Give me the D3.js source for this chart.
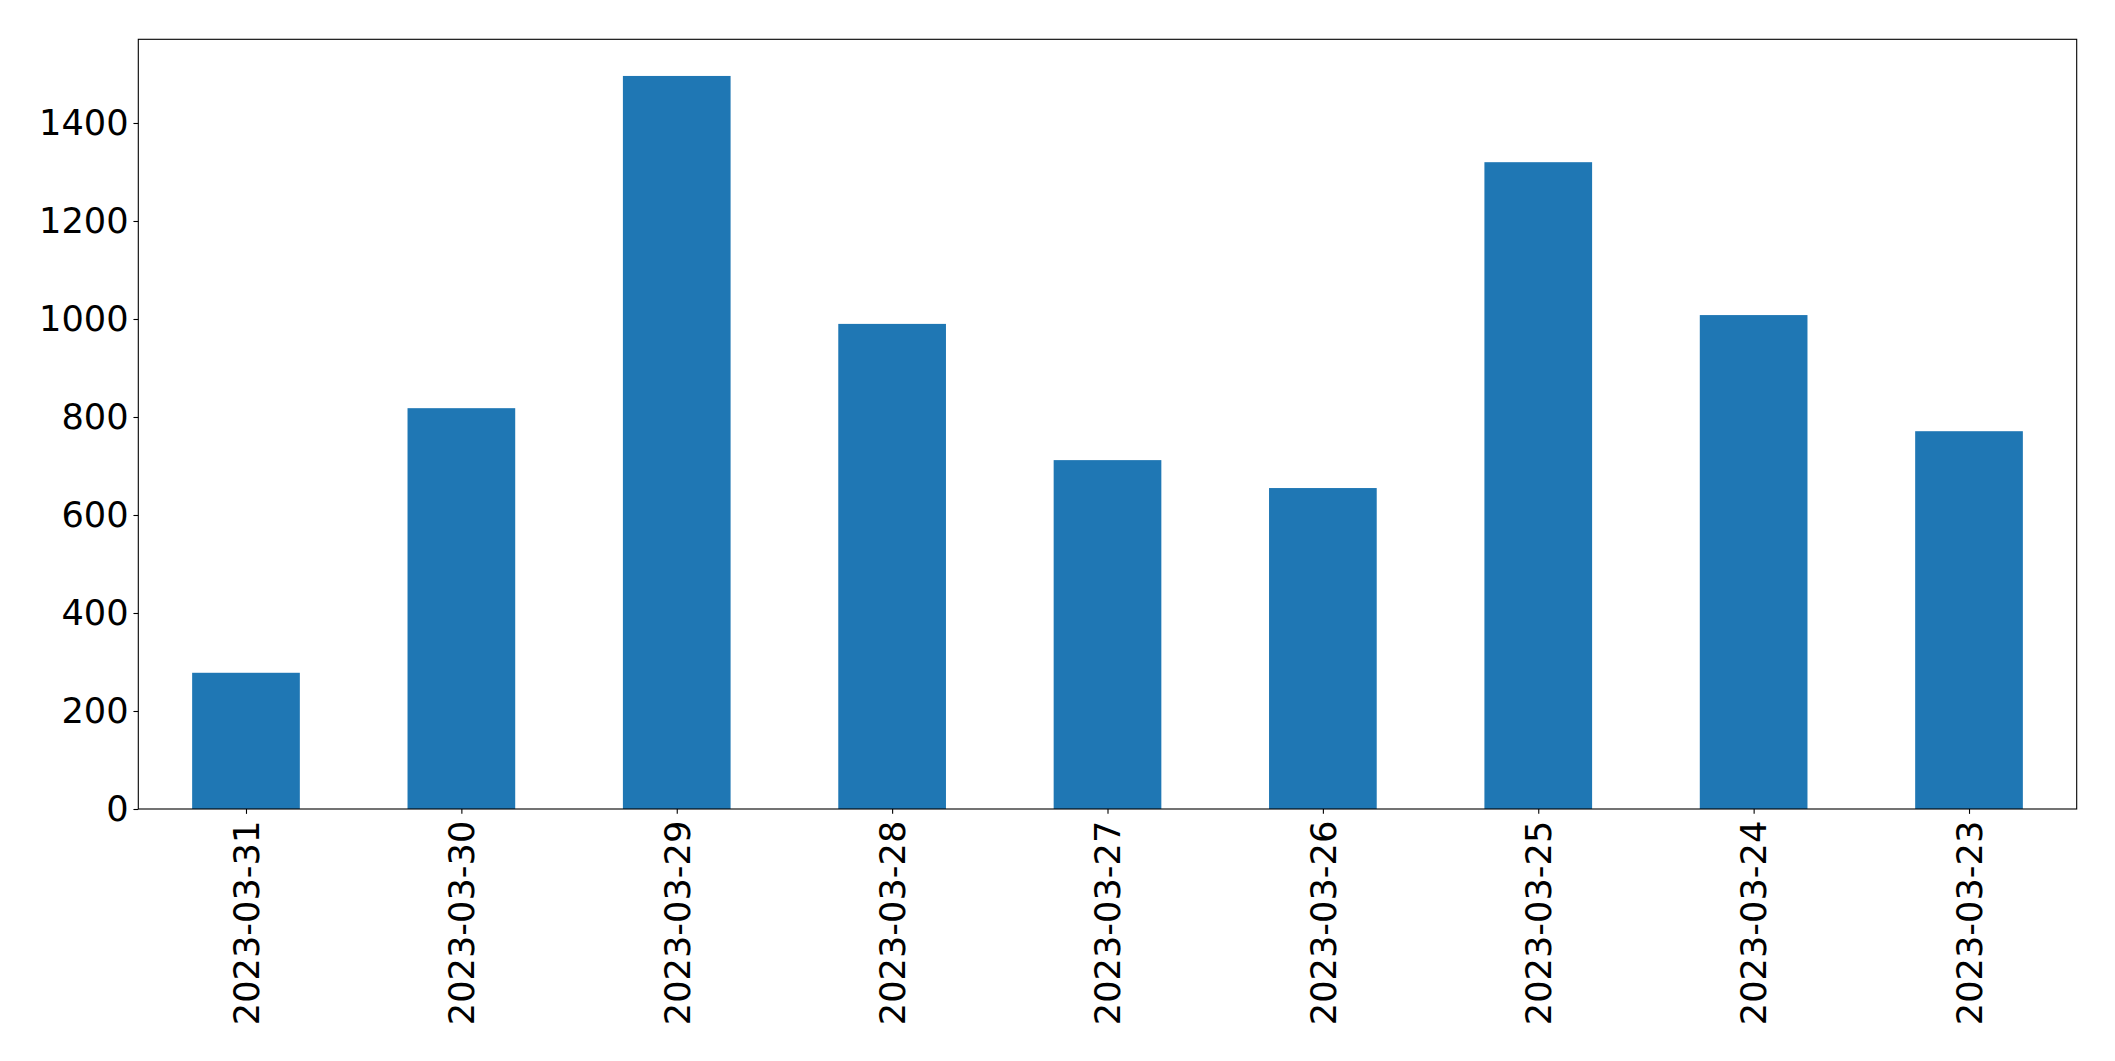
<!DOCTYPE html>
<html>
<head>
<meta charset="utf-8">
<script src="https://cdn.jsdelivr.net/npm/d3@7"></script>
<style>
html,body{margin:0;padding:0;background:#fff;}
svg{display:block;}
</style>
</head>
<body>
<script>
const categories = ["2023-03-31","2023-03-30","2023-03-29","2023-03-28","2023-03-27","2023-03-26","2023-03-25","2023-03-24","2023-03-23"];
const values = [278, 818, 1496, 990, 712, 655, 1320, 1008, 771];
const yTicks = [0, 200, 400, 600, 800, 1000, 1200, 1400];

const W = 2115, H = 1061;
const plotLeft = 138.3, plotRight = 2076.7, plotTop = 39.3, plotBottom = 809;
const fontSize = 35.2;
const tickLen = 4.86, tickPad = 4.86;

const svg = d3.select("body").append("svg").attr("width", W).attr("height", H);

const n = categories.length;
const x = d3.scaleLinear().domain([-0.5, n - 0.5]).range([plotLeft, plotRight]);
const y = d3.scaleLinear().domain([0, d3.max(values) * 1.05]).range([plotBottom, plotTop]);

svg.append("g").selectAll("rect").data(values).join("rect")
  .attr("x", (d, i) => x(i - 0.25))
  .attr("width", (d, i) => x(i + 0.25) - x(i - 0.25))
  .attr("y", d => y(d))
  .attr("height", d => y(0) - y(d))
  .attr("fill", "#1f77b4");

// y axis
const ya = svg.append("g").attr("transform", `translate(${plotLeft},0)`)
  .call(d3.axisLeft(y).tickValues(yTicks).tickSize(tickLen).tickPadding(tickPad).tickFormat(d3.format("d")));
ya.select(".domain").remove();
ya.selectAll("line").attr("stroke", "#000").attr("stroke-width", 1.1);
ya.selectAll("text").attr("font-family", "DejaVu Sans").attr("font-size", fontSize).attr("fill", "#000");

// x axis
const xa = svg.append("g").attr("transform", `translate(0,${plotBottom})`)
  .call(d3.axisBottom(x).tickValues(d3.range(n)).tickSize(tickLen).tickPadding(tickPad).tickFormat(i => categories[i]));
xa.select(".domain").remove();
xa.selectAll("line").attr("stroke", "#000").attr("stroke-width", 1.1);
xa.selectAll("text")
  .attr("font-family", "DejaVu Sans").attr("font-size", fontSize).attr("fill", "#000")
  .attr("transform", "rotate(-90)")
  .attr("text-anchor", "end")
  .attr("x", -(tickLen + tickPad + 2))
  .attr("y", 0)
  .attr("dy", "0.35em");

// frame
svg.append("rect")
  .attr("x", plotLeft).attr("y", plotTop)
  .attr("width", plotRight - plotLeft).attr("height", plotBottom - plotTop)
  .attr("fill", "none").attr("stroke", "#000").attr("stroke-width", 1.1);
</script>
</body>
</html>
